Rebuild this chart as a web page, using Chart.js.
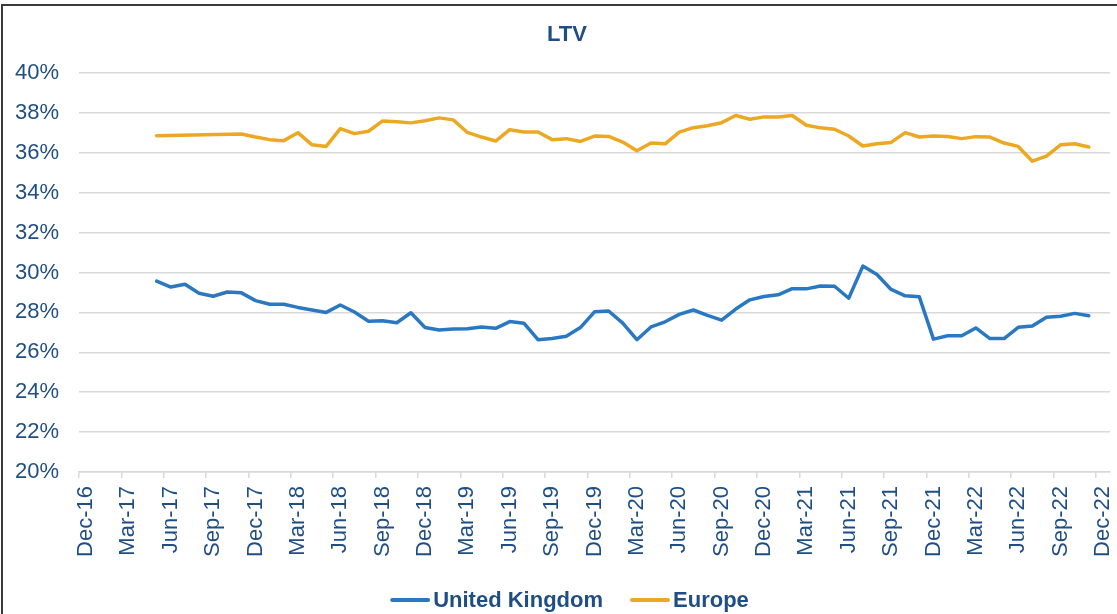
<!DOCTYPE html>
<html>
<head>
<meta charset="utf-8">
<title>LTV</title>
<script src="https://cdn.jsdelivr.net/npm/chart.js@4/dist/chart.umd.min.js"></script>
<style>
  html, body { margin: 0; padding: 0; background: #fff; overflow: hidden; }
  #frame { position: absolute; left: 1px; top: 4px; width: 1300px; height: 800px;
           border-left: 2px solid #3a3a3a; border-top: 2px solid #3a3a3a; }
  #wrap { position: absolute; left: 0; top: 0; width: 1117px; height: 614px; }
</style>
</head>
<body>
<div id="frame"></div>
<div id="wrap"><canvas id="ltvChart" width="1117" height="614"></canvas></div>
<script>
// Monthly categories on the x axis (a label is shown every third month)
const months = [
  'Dec-16',
  'Jan-17','Feb-17','Mar-17','Apr-17','May-17','Jun-17','Jul-17','Aug-17','Sep-17','Oct-17','Nov-17','Dec-17',
  'Jan-18','Feb-18','Mar-18','Apr-18','May-18','Jun-18','Jul-18','Aug-18','Sep-18','Oct-18','Nov-18','Dec-18',
  'Jan-19','Feb-19','Mar-19','Apr-19','May-19','Jun-19','Jul-19','Aug-19','Sep-19','Oct-19','Nov-19','Dec-19',
  'Jan-20','Feb-20','Mar-20','Apr-20','May-20','Jun-20','Jul-20','Aug-20','Sep-20','Oct-20','Nov-20','Dec-20',
  'Jan-21','Feb-21','Mar-21','Apr-21','May-21','Jun-21','Jul-21','Aug-21','Sep-21','Oct-21','Nov-21','Dec-21',
  'Jan-22','Feb-22','Mar-22','Apr-22','May-22','Jun-22','Jul-22','Aug-22','Sep-22','Oct-22','Nov-22','Dec-22'
];
// Quarter labels printed under the axis
const quarterLabels = ['Dec-16','Mar-17','Jun-17','Sep-17','Dec-17','Mar-18','Jun-18','Sep-18','Dec-18',
  'Mar-19','Jun-19','Sep-19','Dec-19','Mar-20','Jun-20','Sep-20','Dec-20','Mar-21','Jun-21','Sep-21',
  'Dec-21','Mar-22','Jun-22','Sep-22','Dec-22'];

// Series start in May-17 and run monthly to Nov-22 (LTV, %)
const seriesStart = 'May-17';
const ukLtv = [
  29.57, 29.27, 29.41, 28.96, 28.81, 29.02, 28.98, 28.59,
  28.41, 28.41, 28.25, 28.12, 28.00, 28.37, 28.02, 27.56, 27.58, 27.48, 27.98, 27.24,
  27.12, 27.17, 27.18, 27.27, 27.20, 27.54, 27.46, 26.63, 26.69, 26.80, 27.24, 28.03,
  28.07, 27.46, 26.63, 27.27, 27.53, 27.90, 28.12, 27.85, 27.61, 28.17, 28.63, 28.80,
  28.88, 29.19, 29.18, 29.32, 29.31, 28.71, 30.32, 29.90, 29.15, 28.83, 28.78, 26.66,
  26.83, 26.83, 27.22, 26.69, 26.69, 27.25, 27.32, 27.76, 27.81, 27.95, 27.83
];
const europeLtv = [
  36.86, null, null, null, null, null, 36.94, 36.79,
  36.66, 36.61, 37.01, 36.40, 36.32, 37.21, 36.96, 37.08, 37.60, 37.56, 37.50, 37.61,
  37.75, 37.65, 37.02, 36.79, 36.59, 37.16, 37.04, 37.04, 36.66, 36.71, 36.57, 36.84,
  36.82, 36.54, 36.10, 36.49, 36.45, 37.04, 37.26, 37.36, 37.51, 37.87, 37.68, 37.80,
  37.80, 37.87, 37.38, 37.25, 37.18, 36.84, 36.34, 36.45, 36.52, 37.01, 36.79, 36.84,
  36.82, 36.71, 36.81, 36.79, 36.49, 36.32, 35.58, 35.83, 36.40, 36.45, 36.29
];

// Place a series on the monthly category axis
function onAxis(values) {
  const lead = months.indexOf(seriesStart);
  const out = new Array(months.length).fill(null);
  values.forEach((v, i) => { out[lead + i] = v; });
  return out;
}

const FONT = '"Liberation Sans", Arial, Helvetica, sans-serif';
const TEXT = '#1F4E85';
const GRID = '#d9d9d9';

// Title and line legend drawn on the canvas
const titleAndLegend = {
  id: 'titleAndLegend',
  afterDraw(chart) {
    const ctx = chart.ctx;
    ctx.save();
    ctx.fillStyle = TEXT;
    ctx.font = 'bold 22px ' + FONT;
    ctx.textAlign = 'center';
    ctx.textBaseline = 'middle';
    ctx.fillText('LTV', 567, 35);

    const lineLen = 38, gap = 4, itemGap = 28, y = 600;
    ctx.textAlign = 'left';
    const items = chart.data.datasets.map(ds => ({
      text: ds.label, color: ds.borderColor, w: ctx.measureText(ds.label).width
    }));
    const total = items.reduce((s, it) => s + lineLen + gap + it.w, 0) + itemGap * (items.length - 1);
    let x = 570 - total / 2;
    items.forEach(it => {
      ctx.strokeStyle = it.color;
      ctx.lineWidth = 4;
      ctx.lineCap = 'round';
      ctx.beginPath();
      ctx.moveTo(x + 1, y);
      ctx.lineTo(x + lineLen - 1, y);
      ctx.stroke();
      x += lineLen + gap;
      ctx.fillStyle = TEXT;
      ctx.fillText(it.text, x, y + 1);
      x += it.w + itemGap;
    });
    ctx.restore();
  }
};

new Chart(document.getElementById('ltvChart'), {
  type: 'line',
  data: {
    labels: months,
    datasets: [
      {
        label: 'United Kingdom',
        data: onAxis(ukLtv),
        borderColor: '#2B78C2',
        backgroundColor: '#2B78C2',
        borderWidth: 3.5,
        pointRadius: 0,
        tension: 0,
        borderJoinStyle: 'round',
        borderCapStyle: 'round'
      },
      {
        label: 'Europe',
        data: onAxis(europeLtv),
        borderColor: '#EDA823',
        backgroundColor: '#EDA823',
        borderWidth: 3.5,
        pointRadius: 0,
        tension: 0,
        spanGaps: true,
        borderJoinStyle: 'round',
        borderCapStyle: 'round'
      }
    ]
  },
  options: {
    responsive: false,
    devicePixelRatio: 1,
    animation: false,
    layout: { padding: { top: 73, right: 7, bottom: 47, left: 0 } },
    plugins: {
      legend: { display: false },
      title: { display: false },
      tooltip: { enabled: false }
    },
    scales: {
      x: {
        type: 'category',
        offset: true,
        grid: {
          offset: true,
          drawOnChartArea: false,
          drawTicks: true,
          tickLength: 6,
          tickColor: c => (c.index % 3 === 0 ? GRID : 'rgba(0,0,0,0)'),
          lineWidth: 1.5
        },
        border: { display: true, color: GRID, width: 1.5 },
        ticks: {
          autoSkip: false,
          maxRotation: 90,
          minRotation: 90,
          padding: 8,
          color: TEXT,
          font: { family: FONT, size: 22 },
          callback: function (value, index) {
            const lab = months[index];
            return quarterLabels.includes(lab) ? lab : '';
          }
        },
        afterFit: s => { s.height = 95; s.paddingLeft = 0; s.paddingRight = 0; }
      },
      y: {
        min: 20,
        max: 40,
        grid: { color: GRID, lineWidth: 1.5, drawTicks: false },
        border: { display: false },
        ticks: {
          stepSize: 2,
          padding: 20,
          color: TEXT,
          font: { family: FONT, size: 22 },
          callback: v => v + '%'
        },
        afterFit: s => { s.width = 79; }
      }
    }
  },
  plugins: [titleAndLegend]
});
</script>
</body>
</html>
